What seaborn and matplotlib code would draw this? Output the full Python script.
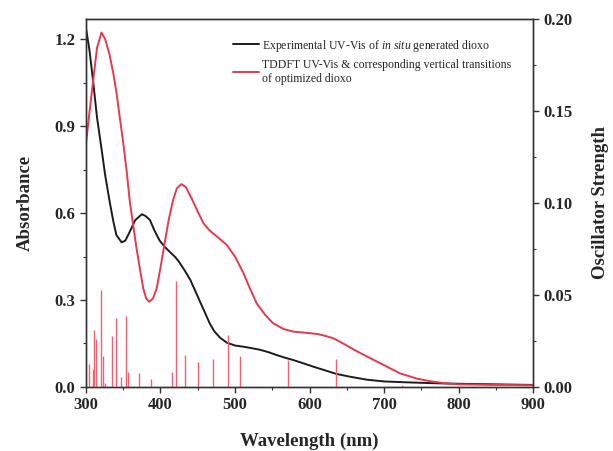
#!/usr/bin/env python3
"""UV-Vis absorbance of in situ generated dioxo vs TDDFT spectrum and transitions."""

import matplotlib

matplotlib.use("Agg")

import matplotlib.pyplot as plt
import pandas as pd
import seaborn as sns
from matplotlib.ticker import FormatStrFormatter, MultipleLocator

OUTPUT_PATH = "out.png"

# experimental spectrum (left axis)
exp_nm = [300, 305, 310, 315, 321, 326, 332, 337, 341, 348, 353, 359, 366, 375,
          380, 386, 392, 399, 406, 413, 420, 426, 433, 440, 447, 453, 460, 466,
          472, 480, 489, 500, 511, 522, 534, 545, 556, 567, 578, 590, 605, 620,
          636, 655, 677, 700, 730, 766, 800, 850, 900]
exp_abs = [1.242, 1.16, 1.05, 0.93, 0.823, 0.73, 0.639, 0.57, 0.524, 0.499, 0.505,
           0.536, 0.575, 0.596, 0.59, 0.576, 0.54, 0.505, 0.483, 0.465, 0.448,
           0.428, 0.40, 0.37, 0.33, 0.295, 0.255, 0.22, 0.193, 0.17, 0.153,
           0.143, 0.139, 0.134, 0.128, 0.12, 0.11, 0.101, 0.093, 0.083, 0.07,
           0.058, 0.045, 0.035, 0.025, 0.019, 0.016, 0.013, 0.011, 0.009, 0.007]

# TDDFT broadened spectrum (drawn on the absorbance scale)
calc_nm = [300, 305, 310, 315, 321, 326, 332, 337, 341, 345, 350, 355, 359, 364,
           368, 373, 377, 381, 385, 390, 395, 400, 406, 411, 417, 422, 428, 434,
           439, 444, 451, 458, 466, 473, 480, 489, 500, 511, 520, 529, 540, 551,
           565, 578, 595, 610, 620, 632, 645, 660, 677, 700, 721, 745, 766, 785,
           800, 850, 900]
calc_abs = [0.834, 0.95, 1.06, 1.17, 1.223, 1.20, 1.145, 1.08, 1.018, 0.94, 0.846,
            0.74, 0.639, 0.55, 0.478, 0.40, 0.34, 0.305, 0.294, 0.305, 0.34, 0.41,
            0.501, 0.575, 0.645, 0.685, 0.70, 0.69, 0.665, 0.639, 0.60, 0.564,
            0.54, 0.525, 0.51, 0.49, 0.45, 0.395, 0.34, 0.289, 0.25, 0.22, 0.20,
            0.191, 0.187, 0.183, 0.177, 0.168, 0.15, 0.128, 0.105, 0.075, 0.047,
            0.028, 0.018, 0.012, 0.009, 0.007, 0.006]

# vertical transitions (right axis)
trans_nm = [304, 309, 311, 314, 320, 323, 325.5, 334.5, 340, 346.5, 354.5, 357,
            371, 387, 416, 421, 433, 451, 470, 490.5, 507, 571.5, 635.5, 724]
trans_f = [0.0123, 0.010, 0.031, 0.026, 0.0525, 0.0167, 0.002, 0.0277, 0.0377,
           0.0054, 0.0386, 0.0082, 0.0078, 0.0042, 0.0082, 0.0576, 0.0172, 0.0136,
           0.0154, 0.0281, 0.0167, 0.0149, 0.0154, 0.001]

BLACK = "#1c1c1c"
RED = "#e63a4c"
STICK = "#ee6272"


def main() -> None:
    sns.set_theme(style="ticks")
    plt.rcParams["font.family"] = ["Liberation Serif", "DejaVu Serif"]
    plt.rcParams["mathtext.fontset"] = "custom"
    plt.rcParams["mathtext.it"] = "Liberation Serif:italic"
    plt.rcParams["mathtext.rm"] = "Liberation Serif"

    exp_df = pd.DataFrame({"nm": exp_nm, "abs": exp_abs})
    calc_df = pd.DataFrame({"nm": calc_nm, "abs": calc_abs})

    fig, ax = plt.subplots(figsize=(6.13, 4.51), dpi=100)
    fig.subplots_adjust(left=0.140, right=0.870, top=0.958, bottom=0.142)

    sns.lineplot(data=exp_df, x="nm", y="abs", ax=ax, color=BLACK, linewidth=1.4,
                 label=r"Experimental UV-Vis of $\mathit{in\ situ}$ generated dioxo")
    sns.lineplot(data=calc_df, x="nm", y="abs", ax=ax, color=RED, linewidth=1.4,
                 label="TDDFT UV-Vis & corresponding vertical transitions\nof optimized dioxo")

    ax2 = ax.twinx()
    ax2.vlines(trans_nm, 0, trans_f, color=STICK, linewidth=1.0)

    ax.set_xlim(300, 900)
    ax.set_ylim(0, 1.27)
    ax2.set_ylim(0, 0.2)

    ax.xaxis.set_major_locator(MultipleLocator(100))
    ax.xaxis.set_minor_locator(MultipleLocator(50))
    ax.yaxis.set_major_locator(MultipleLocator(0.3))
    ax.yaxis.set_minor_locator(MultipleLocator(0.15))
    ax2.yaxis.set_major_locator(MultipleLocator(0.05))
    ax2.yaxis.set_minor_locator(MultipleLocator(0.025))
    ax.yaxis.set_major_formatter(FormatStrFormatter("%.1f"))
    ax2.yaxis.set_major_formatter(FormatStrFormatter("%.2f"))

    for axis in (ax, ax2):
        axis.tick_params(which="major", length=4, width=1.0, labelsize=12, color="#333333")
        axis.tick_params(which="minor", length=2.5, width=0.8, color="#333333")
        for label in axis.get_xticklabels() + axis.get_yticklabels():
            label.set_fontweight("bold")
        for spine in axis.spines.values():
            spine.set_visible(True)
            spine.set_linewidth(1.0)
            spine.set_color("#333333")

    ax.set_xlabel("Wavelength (nm)", fontsize=13.5, fontweight="bold", labelpad=14)
    ax.set_ylabel("Absorbance", fontsize=13.5, fontweight="bold", labelpad=15)
    ax2.set_ylabel("Oscillator Strength", fontsize=13.5, fontweight="bold", labelpad=14)

    ax.legend(loc="upper left", bbox_to_anchor=(0.31, 0.972), frameon=False,
              fontsize=8.5, handlelength=2.2, handletextpad=0.3, labelspacing=0.45,
              borderpad=0.2)

    fig.savefig(OUTPUT_PATH, dpi=100)
    plt.close(fig)


if __name__ == "__main__":
    main()
